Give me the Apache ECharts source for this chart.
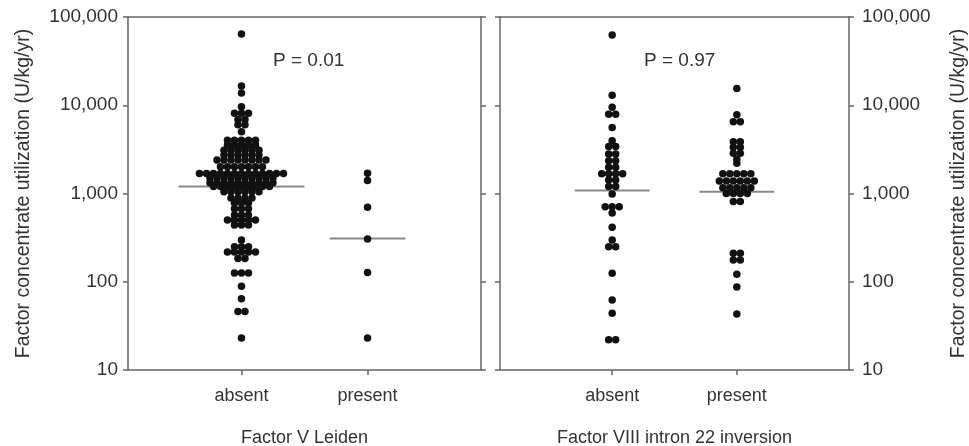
<!DOCTYPE html>
<html>
<head>
<meta charset="utf-8">
<script src="https://cdn.jsdelivr.net/npm/echarts@6/dist/echarts.min.js"></script>
<style>
html, body { margin: 0; padding: 0; background: #fff; }
#chart { width: 969px; height: 446px; }
</style>
</head>
<body>
<div id="chart"></div>
<script>
// categories and labels
const groups = ["absent", "present"];
const panelTitles = ["Factor V Leiden", "Factor VIII intron 22 inversion"];
const yName = "Factor concentrate utilization (U/kg/yr)";
const pLabels = ["P = 0.01", "P = 0.97"];

// factor concentrate use per patient (U/kg/yr)
const fvlAbsent = [
	64000,
	16500, 13800,
	9600,
	8100, 8100, 8100,
	6900, 6900,
	6000, 6000,
	5000,
	4000, 4000, 4000, 4000, 4000,
	3550, 3550, 3550, 3550, 3550,
	3100, 3100, 3100, 3100, 3100, 3100,
	2730, 2730, 2730, 2730, 2730, 2730,
	2400, 2400, 2400, 2400, 2400, 2400, 2400, 2400,
	2010, 2010, 2010, 2010, 2010, 2010, 2010,
	1690, 1690, 1690, 1690, 1690, 1690, 1690, 1690, 1690, 1690, 1690, 1690, 1690,
	1500, 1500, 1500, 1500, 1500, 1500, 1500, 1500, 1500, 1500,
	1320, 1320, 1320, 1320, 1320, 1320, 1320, 1320, 1320, 1320,
	1200, 1200, 1200, 1200, 1200, 1200, 1200, 1200, 1200,
	1050, 1050, 1050, 1050, 1050, 1050,
	890, 890, 890, 890,
	780, 780, 780,
	670, 670, 670,
	570, 570, 570,
	500, 500, 500, 500, 500,
	440, 440, 440,
	297,
	250, 250, 250,
	217, 217, 217, 217, 217,
	183, 183,
	126, 126, 126,
	89,
	64,
	46, 46,
	23
];
const fvlPresent = [1700, 1400, 700, 305, 127, 23];

const f8Absent = [
	62500,
	13000,
	9500,
	7900, 7900,
	5600,
	3950,
	3400, 3400,
	2800, 2800,
	2350, 2350,
	1980, 1980,
	1670, 1670, 1670, 1670,
	1420, 1420,
	1200, 1200,
	990,
	710, 710, 710,
	600,
	415,
	297,
	250, 250,
	125,
	62,
	44,
	22, 22
];
const f8Present = [
	15500,
	7800,
	6500, 6500,
	3850, 3850,
	3350, 3350,
	2850, 2850,
	2450,
	2200,
	1670, 1670, 1670, 1670, 1670,
	1390, 1390, 1390, 1390, 1390, 1390,
	1160, 1160, 1160, 1160, 1160,
	1000, 1000, 1000, 1000,
	810, 810,
	210, 210,
	176, 176,
	122,
	87,
	43
];
const medians = [[1200, 310], [1080, 1050]];

const DOT = 7.5;
const DOT_GAP = 7;
const AXIS_COLOR = "#666";
const TEXT_COLOR = "#333";
const FONT = "Liberation Sans, Arial, sans-serif";
const FS = 18;

// dots with the same value are laid out side by side in a row
function swarm(values, cat) {
	const counts = {};
	values.forEach(v => counts[v] = (counts[v] || 0) + 1);
	const seen = {};
	return values.map(v => {
		seen[v] = seen[v] === undefined ? 0 : seen[v] + 1;
		const dx = (seen[v] - (counts[v] - 1) / 2) * DOT_GAP;
		return { value: [cat, v], symbolOffset: [dx, 0] };
	});
}

function fmt(v) {
	return String(v).replace(/\B(?=(\d{3})+(?!\d))/g, ",");
}

const lineStyle = { color: AXIS_COLOR, width: 1.5 };

function xAxes(gi) {
	return [
		{
			gridIndex: gi, type: "value", min: 0.1, max: 2.9, position: "bottom",
			axisLine: { onZero: false, lineStyle },
			axisTick: { customValues: [1, 2], length: 5, lineStyle },
			axisLabel: {
				customValues: [1, 2], margin: 17, color: TEXT_COLOR, fontSize: FS, fontFamily: FONT,
				formatter: v => groups[Math.round(v) - 1]
			},
			splitLine: { show: false },
			name: panelTitles[gi], nameLocation: "middle", nameGap: 59,
			nameTextStyle: { color: TEXT_COLOR, fontSize: FS, fontFamily: FONT }
		},
		{
			gridIndex: gi, type: "value", min: 0.1, max: 2.9, position: "top",
			axisLine: { onZero: false, lineStyle },
			axisTick: { show: false }, axisLabel: { show: false },
			splitLine: { show: false }
		}
	];
}

function yAxis(gi, pos, labelled) {
	return {
		gridIndex: gi, type: "log", logBase: 10, min: 10, max: 100000, position: pos,
		axisLine: { onZero: false, lineStyle },
		axisTick: { length: 5, lineStyle },
		axisLabel: {
			show: labelled, color: TEXT_COLOR, fontSize: 19, fontFamily: FONT,
			margin: pos === "left" ? 10 : 13, formatter: fmt
		},
		splitLine: { show: false },
		name: labelled ? yName : "", nameLocation: "middle", nameRotate: 90,
		nameGap: pos === "left" ? 94 : 100,
		nameTextStyle: { color: TEXT_COLOR, fontSize: 19.5, fontFamily: FONT }
	};
}

const halfWidth = [[0.5, 0.3], [0.3, 0.3]];
const data = [[fvlAbsent, fvlPresent], [f8Absent, f8Present]];
const series = [];
data.forEach((panel, gi) => {
	panel.forEach((vals, ci) => {
		const cat = ci + 1;
		const m = medians[gi][ci];
		const hw = halfWidth[gi][ci];
		series.push({
			type: "line", xAxisIndex: gi * 2, yAxisIndex: gi * 2,
			data: [[cat - hw, m], [cat + hw, m]], symbol: "none",
			lineStyle: { color: "#888", width: 2 }, z: 1, silent: true
		});
		series.push({
			type: "scatter", xAxisIndex: gi * 2, yAxisIndex: gi * 2,
			data: swarm(vals, cat), symbolSize: DOT,
			itemStyle: { color: "#111", opacity: 1 }, z: 3
		});
	});
});

const chart = echarts.init(document.getElementById("chart"));
chart.setOption({
	animation: false,
	backgroundColor: "#fff",
	grid: [
		{ left: 128, right: 488, top: 17, bottom: 76, outerBoundsMode: "none" },
		{ left: 500, right: 120, top: 17, bottom: 76, outerBoundsMode: "none" }
	],
	xAxis: [...xAxes(0), ...xAxes(1)],
	yAxis: [yAxis(0, "left", true), yAxis(0, "right", false), yAxis(1, "left", false), yAxis(1, "right", true)],
	graphic: [
		{ type: "text", left: 273, top: 51, style: { text: pLabels[0], fontSize: 19, fontFamily: FONT, fill: TEXT_COLOR } },
		{ type: "text", left: 644, top: 51, style: { text: pLabels[1], fontSize: 19, fontFamily: FONT, fill: TEXT_COLOR } }
	],
	series: series
});
</script>
</body>
</html>
